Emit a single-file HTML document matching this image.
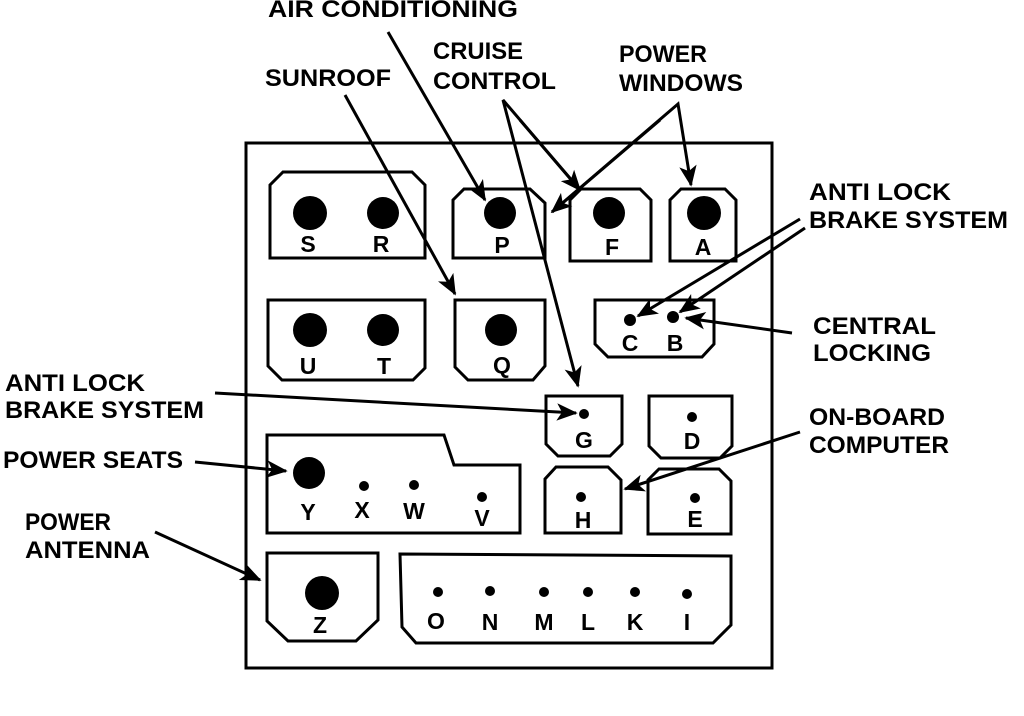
<!DOCTYPE html>
<html><head><style>
html,body{margin:0;padding:0;background:#fff;}
svg{display:block;}
text{font-family:"Liberation Sans",Arial,sans-serif;font-weight:bold;fill:#000;}
</style></head><body>
<svg width="1024" height="716" viewBox="0 0 1024 716" xmlns="http://www.w3.org/2000/svg">
<defs>
<marker id="ah" viewBox="0 0 12 10" refX="11" refY="5" markerWidth="7" markerHeight="6" markerUnits="strokeWidth" orient="auto">
<path d="M0,0 L12,5 L0,10 L3,5 Z" fill="#000"/>
</marker>
</defs>
<g fill="none" stroke="#000" stroke-width="3">
<rect x="246" y="143" width="526" height="525"/>
<path d="M270,258 L270,185 L283,172 L412,172 L425,185 L425,258 Z"/>
<path d="M453,258 L453,200 L464,189 L530,189 L545,203 L545,258 Z"/>
<path d="M570,261 L570,200 L581,189 L640,189 L651,200 L651,261 Z"/>
<path d="M670,261 L670,200 L681,189 L725,189 L736,200 L736,261 Z"/>
<path d="M268,300 L425,300 L425,368 L413,380 L282,380 L268,366 Z"/>
<path d="M455,300 L545,300 L545,366 L533,380 L468,380 L455,367 Z"/>
<path d="M595,300 L714,300 L714,344 L702,357 L608,357 L595,344 Z"/>
<path d="M546,396 L622,396 L622,444 L610,456 L558,456 L546,444 Z"/>
<path d="M649,396 L732,396 L732,446 L720,458 L661,458 L649,446 Z"/>
<path d="M267,533 L267,435 L444,435 L454,465 L520,465 L520,533 Z"/>
<path d="M545,533 L545,479 L556,467 L608,467 L621,480 L621,533 Z"/>
<path d="M648,534 L648,480 L659,469 L719,469 L731,481 L731,534 Z"/>
<path d="M267,553 L378,553 L378,620 L356,641 L288,641 L267,621 Z"/>
<path d="M400,554 L731,556 L731,625 L713,643 L416,643 L402,627 Z"/>
</g>
<g fill="#000">
<circle cx="310" cy="213" r="17"/><circle cx="383" cy="213" r="16"/>
<circle cx="500" cy="213" r="16"/><circle cx="609" cy="213" r="16"/><circle cx="704" cy="213" r="17"/>
<circle cx="310" cy="330" r="17"/><circle cx="383" cy="330" r="16"/><circle cx="501" cy="330" r="16"/>
<circle cx="630" cy="320" r="6"/><circle cx="673" cy="317" r="6"/>
<circle cx="584" cy="414" r="5"/><circle cx="692" cy="417" r="5"/>
<circle cx="309" cy="473" r="16"/><circle cx="364" cy="486" r="5"/><circle cx="414" cy="485" r="5"/><circle cx="482" cy="497" r="5"/>
<circle cx="581" cy="497" r="5"/><circle cx="695" cy="498" r="5"/>
<circle cx="322" cy="593" r="17"/>
<circle cx="438" cy="592" r="5"/><circle cx="490" cy="591" r="5"/><circle cx="544" cy="592" r="5"/><circle cx="588" cy="592" r="5"/><circle cx="635" cy="592" r="5"/><circle cx="687" cy="594" r="5"/>
</g>
<g font-size="23" text-anchor="middle">
<text x="308" y="252">S</text><text x="381" y="252">R</text><text x="502" y="253">P</text><text x="612" y="255">F</text><text x="703" y="255">A</text>
<text x="308" y="374">U</text><text x="384" y="374">T</text><text x="502" y="373">Q</text>
<text x="630" y="351">C</text><text x="675" y="351">B</text>
<text x="584" y="448">G</text><text x="692" y="449">D</text>
<text x="308" y="520">Y</text><text x="362" y="518">X</text><text x="414" y="519">W</text><text x="482" y="526">V</text>
<text x="583" y="528">H</text><text x="695" y="527">E</text>
<text x="320" y="633">Z</text>
<text x="436" y="629">O</text><text x="490" y="630">N</text><text x="544" y="630">M</text><text x="588" y="630">L</text><text x="635" y="630">K</text><text x="687" y="630">I</text>
</g>
<g font-size="24">
<text x="268" y="17" textLength="250" lengthAdjust="spacingAndGlyphs">AIR CONDITIONING</text>
<text x="265" y="86" textLength="126" lengthAdjust="spacingAndGlyphs">SUNROOF</text>
<text x="433" y="59" textLength="90" lengthAdjust="spacingAndGlyphs">CRUISE</text>
<text x="433" y="89" textLength="123" lengthAdjust="spacingAndGlyphs">CONTROL</text>
<text x="619" y="62" textLength="88" lengthAdjust="spacingAndGlyphs">POWER</text>
<text x="619" y="91" textLength="124" lengthAdjust="spacingAndGlyphs">WINDOWS</text>
<text x="809" y="200" textLength="142" lengthAdjust="spacingAndGlyphs">ANTI LOCK</text>
<text x="809" y="228" textLength="199" lengthAdjust="spacingAndGlyphs">BRAKE SYSTEM</text>
<text x="813" y="334" textLength="123" lengthAdjust="spacingAndGlyphs">CENTRAL</text>
<text x="813" y="361" textLength="118" lengthAdjust="spacingAndGlyphs">LOCKING</text>
<text x="809" y="425" textLength="136" lengthAdjust="spacingAndGlyphs">ON-BOARD</text>
<text x="809" y="453" textLength="140" lengthAdjust="spacingAndGlyphs">COMPUTER</text>
<text x="5" y="391" textLength="140" lengthAdjust="spacingAndGlyphs">ANTI LOCK</text>
<text x="5" y="418" textLength="199" lengthAdjust="spacingAndGlyphs">BRAKE SYSTEM</text>
<text x="3" y="468" textLength="180" lengthAdjust="spacingAndGlyphs">POWER SEATS</text>
<text x="25" y="530" textLength="86" lengthAdjust="spacingAndGlyphs">POWER</text>
<text x="25" y="558" textLength="125" lengthAdjust="spacingAndGlyphs">ANTENNA</text>
</g>
<g fill="none" stroke="#000" stroke-width="3" marker-end="url(#ah)">
<line x1="388" y1="32" x2="485" y2="200"/>
<line x1="345" y1="95" x2="455" y2="294"/>
<polyline points="580,190 503,100 578,386" stroke-linejoin="miter"/>
<polyline points="552,212 678,104 691,185"/>
<line x1="800" y1="219" x2="638" y2="316"/>
<line x1="805" y1="228" x2="680" y2="312"/>
<line x1="792" y1="333" x2="686" y2="318"/>
<line x1="215" y1="393" x2="576" y2="413"/>
<line x1="195" y1="462" x2="286" y2="471"/>
<line x1="155" y1="532" x2="260" y2="580"/>
<line x1="800" y1="432" x2="625" y2="489"/>
</g>
<g fill="none" stroke="#000" stroke-width="3">
<line x1="520" y1="120" x2="580" y2="190" marker-end="url(#ah)"/>
<line x1="660" y1="120" x2="552" y2="212" marker-end="url(#ah)"/>
</g>
</svg>
</body></html>
